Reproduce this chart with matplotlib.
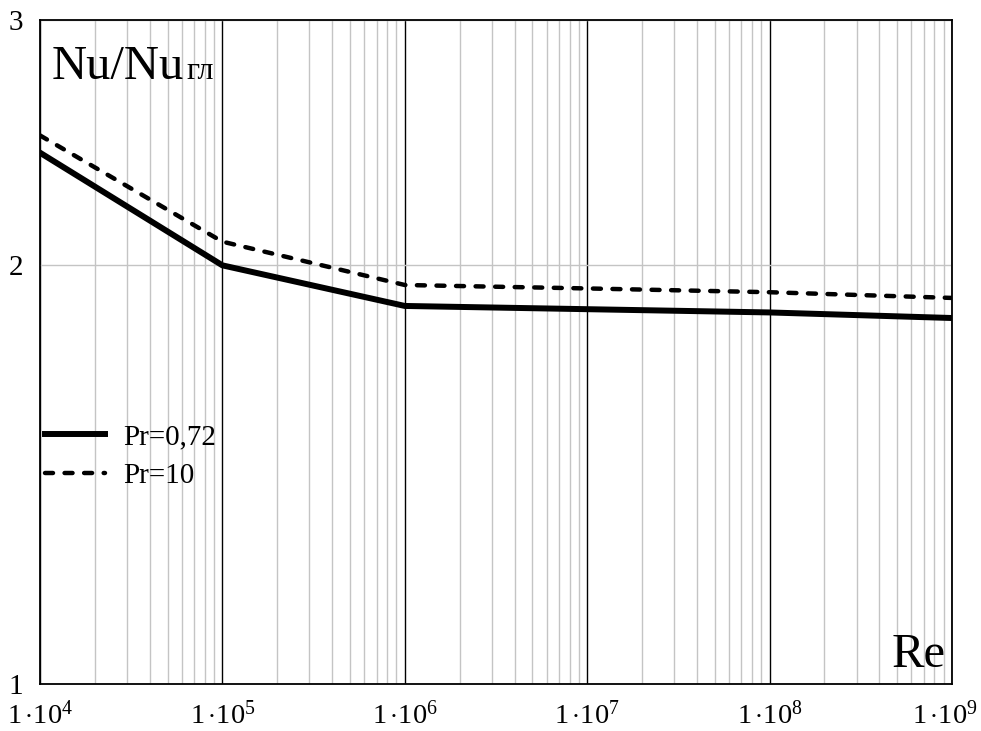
import matplotlib.pyplot as plt
from matplotlib.ticker import FixedLocator, LogLocator, NullFormatter
from matplotlib.transforms import ScaledTranslation

plt.rcParams['font.family'] = ['Liberation Serif', 'DejaVu Serif']
plt.rcParams['mathtext.fontset'] = 'custom'
plt.rcParams['mathtext.rm'] = 'Liberation Serif'
plt.rcParams['mathtext.it'] = 'Liberation Serif'

re_vals = [1e4, 1e5, 1e6, 1e7, 1e8, 1e9]
nu_pr072 = [2.41, 2.00, 1.87, 1.86, 1.85, 1.833]
nu_pr10 = [2.48, 2.08, 1.936, 1.925, 1.913, 1.895]
x_ticks = [1e4, 1e5, 1e6, 1e7, 1e8, 1e9]
x_labels = [r'$1\,{\cdot}10^{%d}$' % p for p in range(4, 10)]
y_ticks = [1, 2, 3]

fig = plt.figure(figsize=(9.81, 7.31), dpi=100)
ax = fig.add_axes([0.0408, 0.0643, 0.9296, 0.9077])
ax.set_xscale('log')
ax.set_yscale('log')
ax.set_xlim(1e4, 1e9)
ax.set_ylim(1, 3)

# grid
ax.xaxis.set_minor_locator(LogLocator(base=10, subs=range(2, 10)))
ax.xaxis.set_minor_formatter(NullFormatter())
ax.grid(which='minor', axis='x', color='#c4c4c4', lw=1.0)
ax.grid(which='major', axis='x', color='black', lw=1.0)
ax.yaxis.set_major_locator(FixedLocator(y_ticks))
ax.yaxis.set_minor_locator(FixedLocator([]))
ax.set_yticklabels(['1', '2', '3'])
ax.grid(which='major', axis='y', color='#c4c4c4', lw=1.0)
ax.set_axisbelow(True)

ax.set_xticks(x_ticks)
ax.set_xticklabels(x_labels)
ax.tick_params(which='both', length=0)
ax.tick_params(axis='x', labelsize=20.5, pad=12)
ax.tick_params(axis='y', labelsize=21, pad=12)
for s in ax.spines.values():
    s.set_linewidth(1.3)
# keep the last label inside the figure
last = ax.get_xticklabels()[-1]
last.set_transform(last.get_transform() + ScaledTranslation(-5 / 72, 0, fig.dpi_scale_trans))

ax.plot(re_vals, nu_pr072, color='black', lw=4.3, label='Pr=0,72')
ax.plot(re_vals, nu_pr10, color='black', lw=3.2, dashes=(1.8, 2.6),
        dash_capstyle='round', label='Pr=10')

ax.legend(loc='center left', bbox_to_anchor=(0.006, 0.343), frameon=False,
          fontsize=21, handlelength=2.05, handletextpad=0.6,
          labelspacing=0.42, borderpad=0, borderaxespad=0)

t = ax.text(0.013, 0.912, 'Nu/Nu', transform=ax.transAxes, fontsize=35,
            va='baseline', ha='left')
fig.canvas.draw()
bb = t.get_window_extent()
x_end = ax.transAxes.inverted().transform((bb.x1, bb.y0))[0]
ax.text(x_end + 0.002, 0.912, 'гл', transform=ax.transAxes, fontsize=23,
        va='baseline', ha='left')
ax.text(0.993, 0.026, 'Re', transform=ax.transAxes, fontsize=35,
        va='baseline', ha='right')

plt.savefig('out.png', dpi=100)
